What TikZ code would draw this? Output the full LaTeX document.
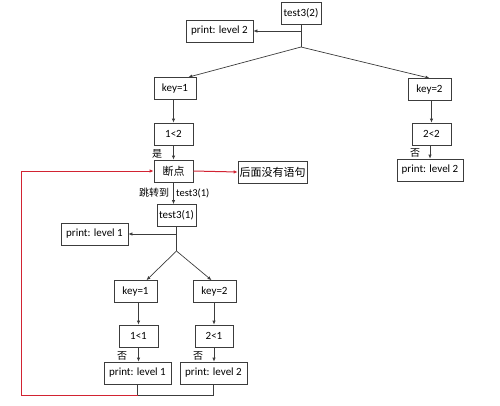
\documentclass[tikz,border=0pt]{standalone}
\usepackage{fontspec}
\setmainfont{Carlito}
\newfontfamily\cjk{Noto Sans CJK SC}
\usetikzlibrary{arrows.meta,calc}
\definecolor{flowline}{RGB}{60,60,60}
\definecolor{jumpred}{RGB}{210,35,50}

\begin{document}
\begin{tikzpicture}[x=1pt, y=-1pt,
      box/.style={draw=flowline, line width=0.7pt, minimum height=22pt, inner sep=1pt, font=\fontsize{11}{12}\selectfont},
      arr/.style={draw=flowline, line width=0.7pt, -{Latex[length=4pt,width=3.5pt]}},
      link/.style={draw=flowline, line width=0.7pt},
      jump/.style={color=jumpred, line width=1pt, -{Latex[length=4pt,width=3.5pt]}},
      note/.style={inner sep=0pt, font=\cjk\fontsize{10}{12}\selectfont}
    ]
      \useasboundingbox (0,0) rectangle (500,405);

      % first call
      \node[box, minimum width=40pt] (t2) at (301,13) {test3(2)};
      \node[box, minimum width=67pt] (p2top) at (219.5,31) {print: level 2};
      \coordinate (j2) at (301,47);
      \node[box, minimum width=42pt] (k1) at (175,88.5) {key=1};
      \node[box, minimum width=43pt] (k2) at (429.5,89.5) {key=2};
      \node[box, minimum width=39pt] (c12) at (173.5,134) {1<2};
      \node[box, minimum width=39pt] (c22) at (431.5,134) {2<2};
      \node[box, minimum width=66pt] (p2r) at (430,170) {print: level 2};
      \node[box, minimum width=39pt] (bp) at (173.5,171) {\cjk 断点};
      \node[box, minimum width=69pt] (rest) at (272.5,172) {\cjk 后面没有语句};

      % second call
      \node[box, minimum width=39pt] (t1) at (176.5,215.5) {test3(1)};
      \node[box, minimum width=67pt] (p1mid) at (94.5,234) {print: level 1};
      \coordinate (j1) at (176.5,251);
      \node[box, minimum width=43pt] (k1b) at (135.5,291.5) {key=1};
      \node[box, minimum width=43pt] (k2b) at (214.5,291.5) {key=2};
      \node[box, minimum width=39pt] (c11) at (138.5,336) {1<1};
      \node[box, minimum width=38pt] (c21) at (214,336) {2<1};
      \node[box, minimum width=67pt] (p1b) at (137.5,373) {print: level 1};
      \node[box, minimum width=67pt] (p2b) at (213.5,373) {print: level 2};
      \coordinate (jb) at (137.5,395);
      \coordinate (lc) at (21,395);

      % connectors
      \draw[link] (t2.south) -- (j2);
      \draw[arr] (t2.south |- p2top.east) -- (p2top.east);
      \draw[arr] (j2) -- ([xshift=-8pt]k1.north east);
      \draw[arr] (j2) -- (k2.north);
      \draw[arr] (c12.north |- k1.south) -- (c12.north);
      \draw[arr] (c12.south) -- (bp.north);
      \draw[arr] (c22.north |- k2.south) -- (c22.north);
      \draw[arr] (c22.south -| p2r.north) -- (p2r.north);
      \draw[arr] (bp.south) -- (bp.south |- t1.north);
      \draw[jump] (bp.east) -- (rest.west);

      \draw[link] (t1.south) -- (j1);
      \draw[arr] (t1.south |- p1mid.east) -- (p1mid.east);
      \draw[arr] (j1) -- ([xshift=11pt]k1b.north);
      \draw[arr] (j1) -- ([xshift=-3pt]k2b.north);
      \draw[arr] (c11.north |- k1b.south) -- (c11.north);
      \draw[arr] (c21.north |- k2b.south) -- (c21.north);
      \draw[arr] (c11.south) -- (c11.south |- p1b.north);
      \draw[arr] (c21.south) -- (c21.south |- p2b.north);
      \draw[link] (p1b.south) -- (jb) -| (p2b.south);
      \draw[jump] (jb) -- (lc) |- (bp.west);

      % labels
      \node[note] (yes) at (157,154) {是};
      \node[note] (no1) at (415,153) {否};
      \node[note] (no2) at (122,356) {否};
      \node[note] (no3) at (198,356) {否};
      \node[note, anchor=west] (goto) at (139,193) {跳转到\hspace{7pt}{\fontspec{Carlito}\fontsize{10.5}{12}\selectfont test3(1)}};
    \end{tikzpicture}
\end{document}
